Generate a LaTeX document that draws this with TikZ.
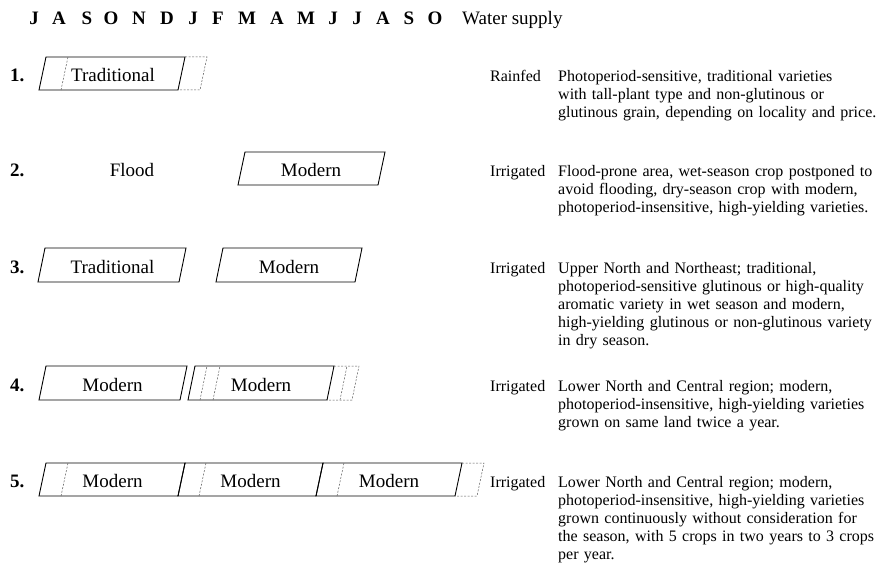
\documentclass[tikz,border=0pt]{standalone}
\usepackage{fontspec}
\setmainfont{Liberation Serif}
\usepackage{tikz}
\usetikzlibrary{positioning}
\tikzset{
    cropbar/.style = {draw, line width=0.9pt, line join=miter},
    extbar/.style = {draw=black!65, line width=0.5pt, dash pattern=on 2pt off 1.5pt},
    month/.style = {font=\fontsize{19}{19}\selectfont\bfseries, anchor=base, inner sep=0pt},
    rowno/.style = {font=\fontsize{19}{19}\selectfont\bfseries, anchor=base west, inner sep=0pt},
    crop/.style = {font=\fontsize{19}{19}\selectfont, anchor=base, inner sep=0pt},
    supply/.style = {font=\fontsize{16}{18}\selectfont, anchor=base west, inner sep=0pt},
    note/.style = {supply, text width=322pt, align=left}}
\begin{document}
\begin{tikzpicture}[x=1pt, y=-1pt]
    \useasboundingbox (0,0) rectangle (882,564);
    % header
    \foreach \m/\x [count=\i] in {J/34,A/59,S/87,O/111,N/139,D/167,J/193,F/218,
        M/247,A/277,M/306,J/333,J/357,A/383,S/409,O/435}
        \node[month] (M\i) at (\x,24.5) {\m};
    \node[supply, font=\fontsize{19}{19}\selectfont] (H) at (462,24.5) {Water supply};

    % 1
    \node[rowno] (N1) at (10,81.5) {1.};
    \draw[cropbar] (39,90) -- (46,57) -- (185,57) -- (178,90) -- cycle;
    \draw[extbar] (61,90) -- (68,57);
    \draw[extbar] (185,57) -- (207,57) -- (200,90) -- (178,90);
    \node[crop] (T1) at (113,81.5) {Traditional};
    \node[supply] (W1) at (490,81.5) {Rainfed};
    \node[note] (D1) at (558,81.5) {Photoperiod-sensitive, traditional varieties\\
        with tall-plant type and non-glutinous or\\
        glutinous grain, depending on locality and price.};

    % 2
    \node[rowno] (N2) at (10,176.5) {2.};
    \node[crop] (F2) at (132,176.5) {Flood};
    \draw[cropbar] (238,185) -- (245,152) -- (385,152) -- (378,185) -- cycle;
    \node[crop] (T2) at (311,176.5) {Modern};
    \node[supply] (W2) at (490,176.5) {Irrigated};
    \node[note] (D2) at (558,176.5) {Flood-prone area, wet-season crop postponed to\\
        avoid flooding, dry-season crop with modern,\\
        photoperiod-insensitive, high-yielding varieties.};

    % 3
    \node[rowno] (N3) at (10,273) {3.};
    \draw[cropbar] (38,282) -- (45,248) -- (186,248) -- (179,282) -- cycle;
    \draw[cropbar] (216,282) -- (223,248) -- (362,248) -- (355,282) -- cycle;
    \node[crop] (T3) at (112.5,273) {Traditional};
    \node[crop] (U3) at (289,273) {Modern};
    \node[supply] (W3) at (490,273) {Irrigated};
    \node[note] (D3) at (558,273) {Upper North and Northeast; traditional,\\
        photoperiod-sensitive glutinous or high-quality\\
        aromatic variety in wet season and modern,\\
        high-yielding glutinous or non-glutinous variety\\
        in dry season.};

    % 4
    \node[rowno] (N4) at (10,391) {4.};
    \draw[cropbar] (39,400) -- (46,366) -- (187,366) -- (180,400) -- cycle;
    \draw[cropbar] (188,400) -- (195,366) -- (334,366) -- (327,400) -- cycle;
    \draw[extbar] (200,400) -- (207,366);
    \draw[extbar] (213,400) -- (220,366);
    \draw[extbar] (334,366) -- (359,366) -- (352,400) -- (327,400);
    \draw[extbar] (340,400) -- (347,366);
    \node[crop] (T4) at (112.5,391) {Modern};
    \node[crop] (U4) at (261,391) {Modern};
    \node[supply] (W4) at (490,391) {Irrigated};
    \node[note] (D4) at (558,391) {Lower North and Central region; modern,\\
        photoperiod-insensitive, high-yielding varieties\\
        grown on same land twice a year.};

    % 5
    \node[rowno] (N5) at (10,487.5) {5.};
    \draw[cropbar] (39,496) -- (46,463) -- (185,463) -- (178,496) -- cycle;
    \draw[cropbar] (178,496) -- (185,463) -- (323,463) -- (316,496) -- cycle;
    \draw[cropbar] (316,496) -- (323,463) -- (462,463) -- (455,496) -- cycle;
    \draw[extbar] (61,496) -- (68,463);
    \draw[extbar] (199,496) -- (206,463);
    \draw[extbar] (337,496) -- (344,463);
    \draw[extbar] (462,463) -- (484,463) -- (477,496) -- (455,496);
    \node[crop] (T5) at (112.5,487.5) {Modern};
    \node[crop] (U5) at (250.5,487.5) {Modern};
    \node[crop] (V5) at (389,487.5) {Modern};
    \node[supply] (W5) at (490,487.5) {Irrigated};
    \node[note] (D5) at (558,487.5) {Lower North and Central region; modern,\\
        photoperiod-insensitive, high-yielding varieties\\
        grown continuously without consideration for\\
        the season, with 5 crops in two years to 3 crops\\
        per year.};
\end{tikzpicture}
\end{document}
